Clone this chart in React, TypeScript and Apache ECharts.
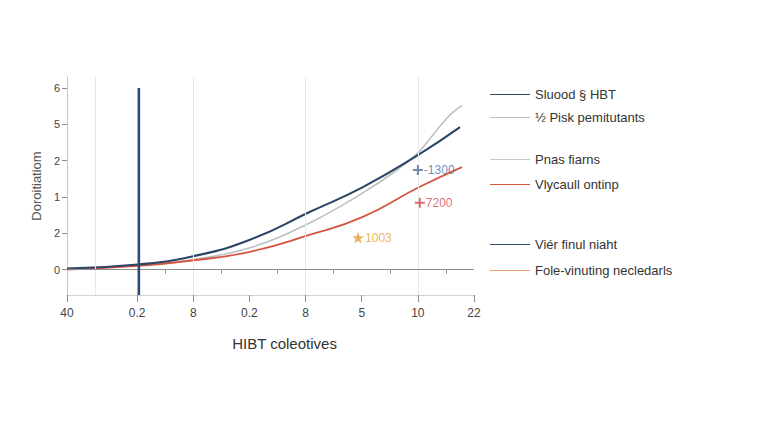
import { useEffect, useRef } from "react";
import * as echarts from "echarts";

// x axis: label positions and the odd labels printed under them
const xLabelPos = [0, 2.5, 4.5, 6.5, 8.5, 10.5, 12.5, 14.5];
const xLabels = ["40", "0.2", "8", "0.2", "8", "5", "10", "22"];
const xMinorPos = [3.5, 5.5, 7.5, 9.5, 11.5, 13.5];
const xGridPos = [1, 4.5, 8.5, 12.5];

// y axis
const yLabelPos = [0, 1, 2, 3, 4, 5];
const yLabels = ["0", "2", "1", "2", "5", "6"];

// series values [x, y]
const navyLine = [
  [0, 0.03], [2.53, 0.14], [4.45, 0.36], [6.52, 0.82], [8.66, 1.59],
  [10.54, 2.27], [12.5, 3.15], [14.0, 3.92],
];
const grayLine = [
  [0, 0.02], [2.53, 0.11], [4.45, 0.27], [6.52, 0.6], [8.66, 1.29],
  [10.54, 2.11], [11.76, 2.74], [12.5, 3.21], [13.18, 3.84], [13.64, 4.25], [14.07, 4.52],
];
const redLine = [
  [0, 0.0], [2.53, 0.1], [4.45, 0.25], [6.52, 0.49], [8.66, 0.96],
  [10.54, 1.45], [12.5, 2.25], [14.07, 2.82],
];
const markerLine = [[2.56, -0.7], [2.56, 5.0]];

const annotations = [
  { name: "-1300", value: [12.5, 2.74], color: "#4e6ea3", shape: "plus" },
  { name: "7200", value: [12.57, 1.84], color: "#d8475a", shape: "plus" },
  { name: "1003", value: [10.37, 0.88], color: "#e3a234", shape: "star" },
];

const legendNames = [
  "Sluood § HBT",
  "½ Pisk pemitutants",
  "Pnas fiarns",
  "Vlycaull ontinp",
  "Viér finul niaht",
  "Fole-vinuting necledarls",
];
const legendColors = ["#2c4566", "#bcc0c3", "#c6c9cb", "#d5553f", "#2b4d73", "#e99c7c"];

const PLUS = "path://M4,0H6V4H10V6H6V10H4V6H0V4H4Z";
const STAR = "path://M5,0L6.2,3.6H10L6.9,5.8L8.1,9.5L5,7.2L1.9,9.5L3.1,5.8L0,3.6H3.8Z";
const LEG_ICON = "path://M0,0H40V1H0Z";

export default function App() {
  const chartRef = useRef<HTMLDivElement>(null);

  useEffect(() => {
    if (!chartRef.current) return;
    const chart = echarts.init(chartRef.current, null, { renderer: "svg" });

    const legendItems = (from: number, to: number) =>
      legendNames.slice(from, to).map((name, k) => ({
        name,
        icon: LEG_ICON,
        itemStyle: { color: legendColors[from + k], borderWidth: 0 },
      }));

    const legendBase = {
      orient: "vertical",
      left: 485,
      itemWidth: 40,
      itemHeight: 2,
      textStyle: { fontSize: 13, color: "#333", fontFamily: "Liberation Sans" },
      selectedMode: false,
    };

    const option = {
      animation: false,
      backgroundColor: "#ffffff",
      textStyle: { fontFamily: "Liberation Sans" },
      grid: { left: 67, right: 294, top: 77, bottom: 137 },
      legend: [
        { ...legendBase, top: 83, itemGap: 10, data: legendItems(0, 2) },
        { ...legendBase, top: 148, itemGap: 12, data: legendItems(2, 4) },
        { ...legendBase, top: 233, itemGap: 13, data: legendItems(4, 6) },
      ],
      xAxis: [
        {
          type: "value",
          min: 0,
          max: 14.5,
          name: "HIBT coleotives",
          nameLocation: "middle",
          nameGap: 41,
          nameTextStyle: { fontSize: 15, color: "#333", padding: [0, 0, 0, 28] },
          axisLine: { show: true, onZero: false, lineStyle: { color: "#d2d2d2" } },
          axisTick: { show: true, length: 7, customValues: xLabelPos, lineStyle: { color: "#8c8c8c" } },
          axisLabel: {
            customValues: xLabelPos,
            margin: 12,
            fontSize: 12,
            color: "#444",
            formatter: (v: number) => {
              const i = xLabelPos.findIndex((p) => Math.abs(p - v) < 1e-6);
              return i >= 0 ? xLabels[i] : "";
            },
          },
          splitLine: { show: false },
        },
        {
          type: "value",
          min: 0,
          max: 14.5,
          position: "bottom",
          axisLine: { show: false },
          axisTick: { show: true, length: 4, customValues: xMinorPos, lineStyle: { color: "#8c8c8c" } },
          axisLabel: { show: false, customValues: xMinorPos },
          splitLine: { show: false },
        },
      ],
      yAxis: {
        type: "value",
        min: -0.7,
        max: 5.3,
        name: "Doroitiatiom",
        nameLocation: "middle",
        nameGap: 20,
        nameTextStyle: { fontSize: 13, color: "#555" },
        axisLine: { show: true, onZero: false, lineStyle: { color: "#c8c8c8" } },
        axisTick: { show: true, length: 5, customValues: yLabelPos, lineStyle: { color: "#8c8c8c" } },
        axisLabel: {
          customValues: yLabelPos,
          margin: 7,
          fontSize: 11,
          color: "#444",
          formatter: (v: number) => {
            const i = yLabelPos.findIndex((p) => Math.abs(p - v) < 1e-6);
            return i >= 0 ? yLabels[i] : "";
          },
        },
        splitLine: { show: false },
      },
      series: [
        {
          name: legendNames[0],
          type: "line",
          data: navyLine,
          smooth: 0.5,
          symbol: "none",
          color: legendColors[0],
          lineStyle: { width: 2.1, color: legendColors[0] },
          z: 4,
          markLine: {
            silent: true,
            symbol: "none",
            label: { show: false },
            data: [
              ...xGridPos.map((x) => ({ xAxis: x, lineStyle: { color: "#e8e8e8", width: 1, type: "solid" } })),
              { yAxis: 0, lineStyle: { color: "#8e8e8e", width: 1.2, type: "solid" } },
            ],
          },
        },
        {
          name: legendNames[1],
          type: "line",
          data: grayLine,
          smooth: 0.4,
          symbol: "none",
          color: legendColors[1],
          lineStyle: { width: 1.6, color: legendColors[1] },
          z: 3,
        },
        {
          name: legendNames[2],
          type: "line",
          data: [],
          symbol: "none",
          color: legendColors[2],
          lineStyle: { width: 1.5, color: legendColors[2] },
        },
        {
          name: legendNames[3],
          type: "line",
          data: redLine,
          smooth: 0.5,
          symbol: "none",
          color: legendColors[3],
          lineStyle: { width: 1.8, color: legendColors[3] },
          z: 3,
        },
        {
          name: legendNames[4],
          type: "line",
          data: markerLine,
          symbol: "none",
          color: legendColors[4],
          lineStyle: { width: 2.6, color: legendColors[4] },
          z: 5,
        },
        {
          name: legendNames[5],
          type: "line",
          data: [],
          symbol: "none",
          color: legendColors[5],
          lineStyle: { width: 1.5, color: legendColors[5] },
        },
        {
          name: "annotations",
          type: "scatter",
          z: 6,
          data: annotations.map((a) => ({
            name: a.name,
            value: a.value,
            symbol: a.shape === "plus" ? PLUS : STAR,
            symbolSize: a.shape === "plus" ? 10 : 12,
            itemStyle: { color: a.color },
            label: {
              show: true,
              position: "right",
              distance: 1,
              formatter: "{b}",
              fontSize: 12,
              color: a.color,
            },
          })),
        },
      ],
    };

    chart.setOption(option as any);

    return () => {
      chart.dispose();
    };
  }, []);

  return (
    <div
      ref={chartRef}
      style={{ position: "fixed", left: 0, top: 0, width: "768px", height: "432px" }}
    />
  );
}
